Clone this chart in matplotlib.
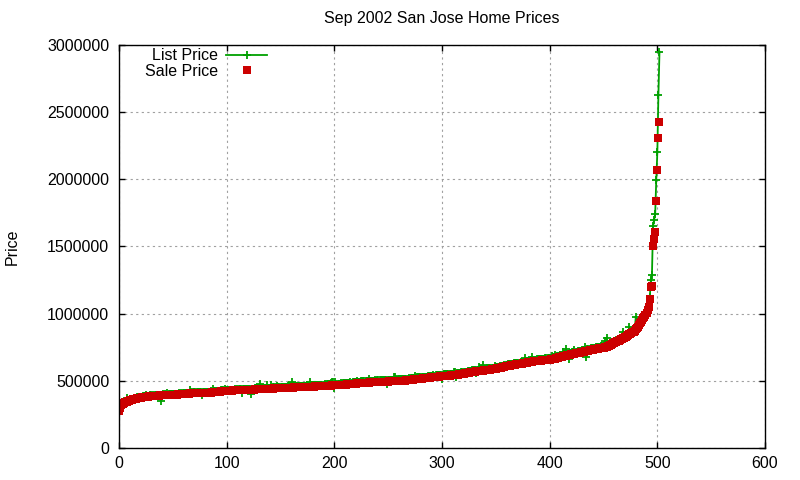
import numpy as np
import matplotlib
matplotlib.use("Agg")
import matplotlib.pyplot as plt
from matplotlib.ticker import FormatStrFormatter

plt.rcParams['font.family'] = ['Liberation Sans', 'DejaVu Sans']
plt.rcParams['font.size'] = 11.5

# sale prices, sorted, in thousands of dollars
sale_k = [
    275, 300, 318, 327, 331, 335, 339, 343, 347, 350,
    354, 357, 359, 362, 364, 366, 368, 369, 371, 372,
    375, 377, 378, 379, 380, 381, 382, 383, 384, 385,
    385, 386, 387, 387, 388, 389, 389, 390, 391, 391,
    392, 392, 393, 393, 394, 394, 395, 395, 396, 396,
    397, 397, 398, 398, 398, 399, 399, 400, 400, 401,
    402, 402, 403, 404, 404, 405, 406, 407, 408, 409,
    409, 409, 410, 410, 410, 411, 411, 411, 412, 412,
    412, 412, 413, 413, 413, 413, 414, 414, 415, 416,
    417, 418, 419, 419, 420, 421, 422, 423, 424, 425,
    425, 425, 426, 426, 427, 427, 428, 428, 429, 429,
    429, 430, 430, 430, 431, 431, 431, 432, 432, 432,
    433, 433, 434, 434, 435, 435, 436, 436, 437, 437,
    438, 438, 438, 439, 439, 439, 440, 440, 440, 441,
    441, 441, 442, 442, 443, 443, 444, 444, 444, 445,
    445, 445, 446, 446, 447, 447, 447, 448, 448, 449,
    449, 450, 450, 451, 451, 452, 452, 453, 453, 454,
    454, 454, 455, 455, 455, 456, 456, 456, 457, 457,
    457, 457, 458, 458, 458, 458, 458, 458, 459, 459,
    460, 460, 461, 462, 463, 464, 465, 465, 466, 466,
    466, 467, 467, 468, 468, 469, 469, 469, 469, 470,
    471, 472, 473, 474, 475, 476, 477, 478, 478, 479,
    480, 481, 481, 482, 483, 483, 484, 485, 486, 486,
    487, 487, 487, 488, 488, 489, 489, 490, 490, 491,
    491, 491, 492, 492, 492, 493, 493, 493, 494, 494,
    494, 495, 495, 495, 496, 496, 497, 497, 498, 499,
    499, 500, 500, 501, 501, 502, 502, 503, 504, 505,
    506, 507, 508, 509, 510, 511, 512, 513, 514, 515,
    516, 517, 518, 518, 519, 520, 521, 522, 523, 524,
    525, 526, 527, 528, 529, 530, 531, 532, 533, 534,
    535, 536, 537, 537, 538, 538, 539, 539, 540, 540,
    541, 542, 543, 544, 545, 546, 548, 550, 551, 552,
    554, 555, 557, 558, 560, 561, 563, 564, 566, 567,
    568, 569, 570, 571, 572, 573, 574, 575, 576, 578,
    579, 580, 581, 582, 583, 584, 586, 587, 588, 589,
    590, 592, 594, 595, 597, 599, 601, 603, 605, 607,
    609, 611, 612, 613, 615, 616, 617, 619, 620, 622,
    623, 624, 625, 627, 628, 630, 631, 633, 634, 636,
    637, 639, 640, 641, 643, 644, 645, 647, 648, 649,
    650, 650, 651, 652, 652, 653, 654, 655, 656, 657,
    658, 659, 660, 662, 664, 666, 668, 670, 672, 675,
    678, 680, 682, 684, 686, 688, 689, 691, 693, 695,
    697, 699, 700, 702, 704, 706, 707, 708, 710, 711,
    713, 715, 717, 719, 721, 723, 725, 727, 729, 731,
    733, 735, 736, 738, 739, 740, 741, 743, 745, 746,
    748, 750, 752, 754, 757, 760, 764, 768, 773, 778,
    782, 786, 790, 794, 799, 804, 808, 812, 816, 820,
    824, 829, 834, 840, 845, 850, 855, 860, 866, 873,
    882, 891, 903, 916, 928, 940, 953, 965, 977, 990,
    1003, 1025, 1047, 1109, 1200, 1206, 1506, 1556, 1610, 1839,
    2072, 2310, 2427,
]

# asking prices of the same homes, in thousands of dollars
list_k = [
    290, 312, 325, 335, 340, 345, 348, 372, 352, 356,
    360, 362, 366, 368, 370, 372, 374, 376, 378, 380,
    380, 382, 384, 385, 386, 392, 388, 390, 390, 392,
    392, 390, 394, 392, 395, 396, 394, 395, 396, 350,
    398, 399, 397, 400, 398, 410, 401, 400, 402, 403,
    403, 402, 404, 405, 403, 405, 406, 404, 408, 407,
    408, 409, 410, 409, 411, 412, 428, 414, 413, 415,
    415, 414, 416, 417, 415, 418, 416, 392, 418, 417,
    418, 419, 418, 420, 419, 421, 420, 440, 421, 423,
    423, 424, 426, 425, 427, 428, 429, 430, 440, 431,
    431, 432, 433, 432, 434, 433, 435, 434, 436, 435,
    436, 437, 436, 438, 408, 437, 438, 439, 438, 440,
    439, 440, 441, 405, 442, 441, 443, 444, 443, 445,
    444, 478, 446, 447, 446, 448, 447, 472, 449, 448,
    450, 470, 449, 451, 452, 450, 453, 462, 452, 454,
    453, 455, 454, 456, 455, 457, 456, 458, 457, 459,
    458, 488, 460, 459, 461, 460, 462, 461, 463, 462,
    463, 464, 463, 465, 464, 466, 465, 490, 466, 467,
    466, 468, 467, 469, 468, 470, 469, 471, 470, 472,
    471, 473, 472, 474, 473, 475, 476, 485, 490, 488,
    449, 489, 478, 477, 479, 480, 481, 480, 482, 481,
    482, 484, 483, 485, 486, 488, 487, 489, 488, 490,
    491, 498, 492, 494, 493, 495, 496, 495, 497, 498,
    498, 499, 514, 500, 499, 501, 502, 501, 503, 502,
    503, 504, 503, 505, 504, 506, 505, 507, 506, 480,
    506, 508, 507, 509, 508, 528, 531, 510, 509, 511,
    512, 511, 513, 512, 514, 515, 514, 516, 517, 518,
    517, 519, 520, 521, 522, 538, 523, 525, 526, 527,
    528, 527, 529, 530, 531, 530, 532, 533, 534, 535,
    536, 537, 546, 539, 540, 541, 542, 543, 544, 545,
    511, 547, 548, 549, 548, 551, 550, 552, 551, 552,
    553, 568, 566, 530, 556, 557, 559, 561, 562, 563,
    565, 566, 568, 569, 571, 572, 574, 575, 577, 578,
    579, 580, 555, 582, 600, 584, 585, 586, 618, 589,
    590, 591, 592, 593, 594, 595, 597, 598, 599, 612,
    601, 603, 605, 606, 608, 610, 612, 614, 616, 618,
    620, 622, 623, 624, 626, 627, 628, 630, 631, 633,
    634, 635, 636, 638, 639, 641, 642, 670, 645, 647,
    648, 650, 651, 652, 675, 655, 656, 658, 659, 660,
    661, 662, 663, 664, 665, 666, 667, 668, 669, 670,
    671, 672, 688, 674, 676, 694, 680, 682, 684, 687,
    690, 692, 717, 696, 698, 737, 701, 703, 665, 707,
    709, 711, 712, 730, 716, 718, 719, 720, 722, 723,
    725, 727, 729, 754, 677, 735, 737, 739, 741, 743,
    745, 747, 748, 750, 751, 752, 753, 755, 757, 758,
    760, 795, 764, 817, 769, 772, 776, 780, 785, 790,
    794, 798, 802, 806, 811, 816, 820, 824, 865, 832,
    836, 841, 846, 852, 898, 862, 867, 872, 878, 885,
    975, 903, 915, 928, 940, 952, 965, 977, 989, 1002,
    1015, 1040, 1060, 1126, 1250, 1290, 1650, 1700, 1740, 1995,
    2200, 2630, 2950,
]

assert len(sale_k) == len(list_k)

sale = np.array(sale_k) * 1000
asking = np.array(list_k) * 1000
idx = np.arange(len(sale))

fig = plt.figure(figsize=(8, 4.8), dpi=100)
ax = fig.add_axes([0.14875, 0.0667, 0.8075, 0.8396])

ax.plot(idx, asking, color='#00a000', lw=1.3, marker='+', ms=6.3, mew=1.3,
        label='List Price')
ax.plot(idx, sale, ls='none', color='#cc0000', marker='s', ms=6.0, mew=0,
        label='Sale Price')

ax.set_xlim(0, 600)
ax.set_ylim(0, 3000000)
ax.set_xticks(np.arange(0, 601, 100))
ax.set_yticks(np.arange(0, 3000001, 500000))
ax.yaxis.set_major_formatter(FormatStrFormatter('%d'))
ax.tick_params(direction='in', length=4.5, width=1, top=True, right=True,
               labelsize=11.5)
ax.tick_params(axis='x', pad=6)
ax.tick_params(axis='y', pad=7)
for s in ax.spines.values():
    s.set_linewidth(1)

ax.grid(True, color='#a0a0a0', ls=(0, (2, 3)), lw=0.8)
ax.set_axisbelow(True)

ax.set_title('Sep 2002 San Jose Home Prices', fontsize=11.5, pad=16)
ax.set_ylabel('Price', fontsize=11.5)
ax.yaxis.set_label_coords(-0.153, 0.5)

ax.legend(loc='upper left', bbox_to_anchor=(0.035, 1.0), frameon=False,
          markerfirst=False, handlelength=2.6, handletextpad=0.5,
          labelspacing=0.05, borderpad=0.2, borderaxespad=0, numpoints=1,
          fontsize=11.5)

fig.savefig('out.png', dpi=100)
